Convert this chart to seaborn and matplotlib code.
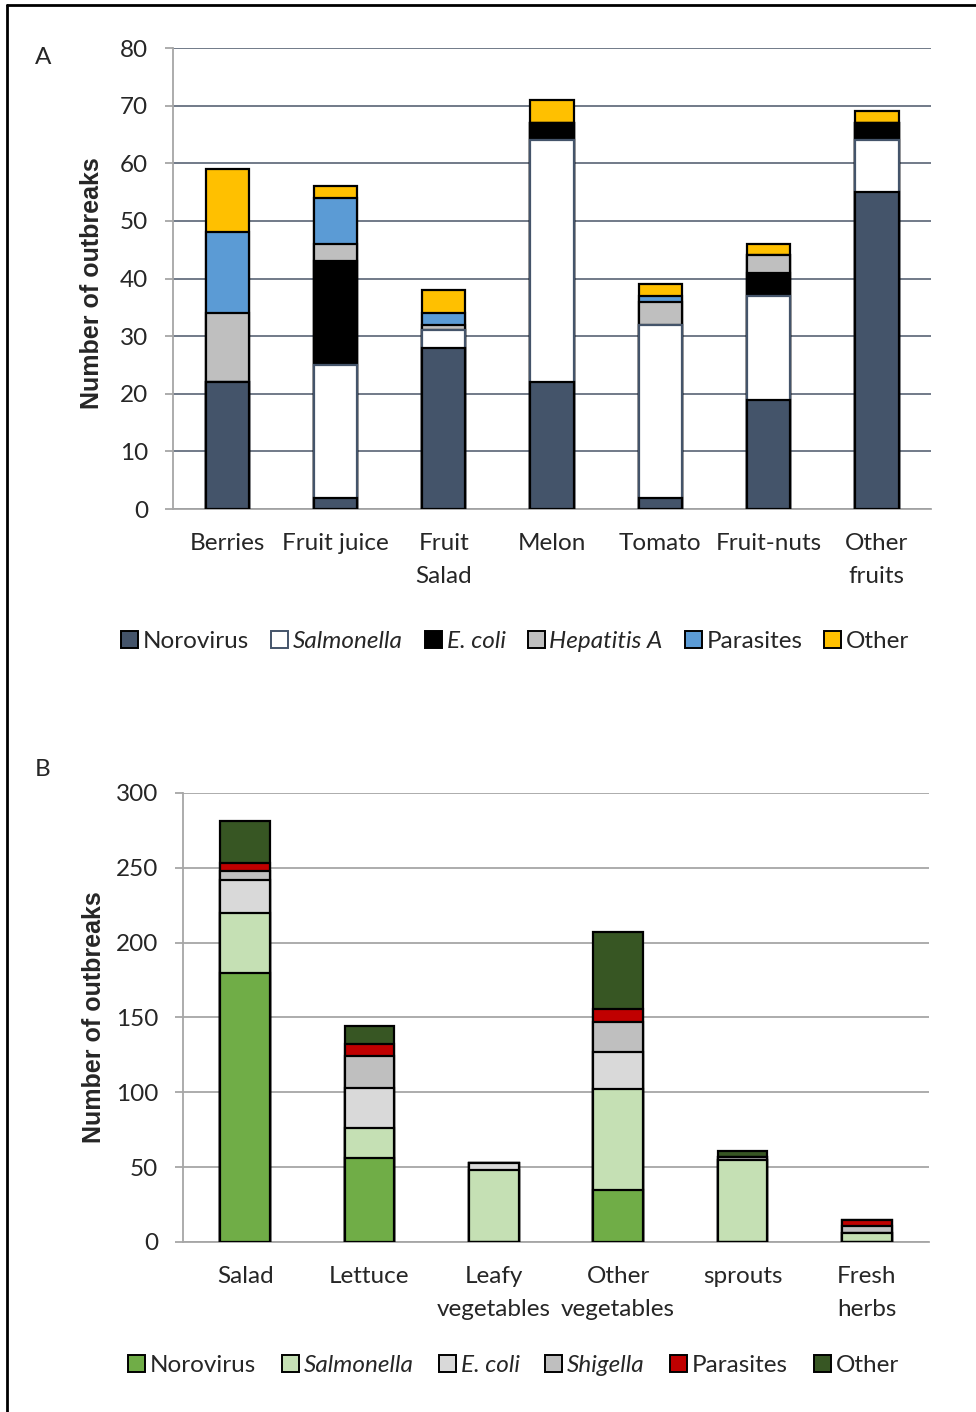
import numpy as np
import pandas as pd
import matplotlib
matplotlib.use("Agg")
import matplotlib.pyplot as plt
from matplotlib.patches import Patch
from matplotlib.lines import Line2D
import seaborn as sns

# --- Panel A data: fruits -------------------------------------------------
fruit_cats = ["Berries", "Fruit juice", "Fruit\nSalad", "Melon", "Tomato", "Fruit-nuts", "Other\nfruits"]
fruit_series = ["Norovirus", "Salmonella", "E. coli", "Hepatitis A", "Parasites", "Other"]
fruit_noro = [22, 2, 28, 22, 2, 19, 55]
fruit_salm = [0, 23, 3, 42, 30, 18, 9]
fruit_ecoli = [0, 18, 0, 3, 0, 4, 3]
fruit_hepa = [12, 3, 1, 0, 4, 3, 0]
fruit_para = [14, 8, 2, 0, 1, 0, 0]
fruit_other = [11, 2, 4, 4, 2, 2, 2]
fruit_colors = ["#44546A", "#FFFFFF", "#000000", "#BFBFBF", "#5B9BD5", "#FFC000"]
fruit_edges = ["#000000", "#44546A", "#000000", "#000000", "#000000", "#000000"]

# --- Panel B data: vegetables ---------------------------------------------
veg_cats = ["Salad", "Lettuce", "Leafy\nvegetables", "Other\nvegetables", "sprouts", "Fresh\nherbs"]
veg_series = ["Norovirus", "Salmonella", "E. coli", "Shigella", "Parasites", "Other"]
veg_noro = [180, 56, 0, 35, 0, 0]
veg_salm = [40, 20, 48, 67, 55, 6]
veg_ecoli = [22, 27, 5, 25, 0, 0]
veg_shig = [6, 21, 0, 20, 2, 5]
veg_para = [5, 8, 0, 9, 0, 4]
veg_other = [28, 12, 0, 51, 4, 0]
veg_colors = ["#70AD47", "#C5E0B4", "#D9D9D9", "#BFBFBF", "#C00000", "#375623"]
veg_edges = ["#000000"] * 6

ITALIC = {"Salmonella", "E. coli", "Hepatitis A", "Shigella"}

sns.set_style("white")
plt.rcParams["font.family"] = ["Lato", "DejaVu Sans"]
FS = 17.5


def stacked(ax, cats, series, values, colors, edges, grid_color, ymax, ystep):
    df = pd.DataFrame(dict(zip(series, values)))
    df["cat"] = cats
    cum = df[series].cumsum(axis=1)
    # draw from the tallest cumulative level down so lower segments sit on top
    for i in range(len(series) - 1, -1, -1):
        d = pd.DataFrame({"cat": cats, "val": cum[series[i]].values})
        sns.barplot(data=d, x="cat", y="val", order=cats, color=colors[i],
                    edgecolor=edges[i], linewidth=1.6, width=0.4,
                    errorbar=None, saturation=1, ax=ax, zorder=3)
    ax.set_ylim(0, ymax)
    ax.set_xlim(-0.5, len(cats) - 0.5)
    ax.set_yticks(np.arange(0, ymax + 1, ystep))
    ax.yaxis.grid(True, color=grid_color, linewidth=1.3, zorder=0)
    ax.set_axisbelow(True)
    ax.set_xlabel("")
    ax.set_ylabel("Number of outbreaks", fontsize=18, fontweight="bold",
                  family=["Liberation Sans", "DejaVu Sans"])
    for s in ["top", "right"]:
        ax.spines[s].set_visible(False)
    for s in ["left", "bottom"]:
        ax.spines[s].set_color("#A6A6A6")
        ax.spines[s].set_linewidth(1.3)
    ax.set_xticks(np.arange(-0.5, len(cats)), minor=True)
    ax.tick_params(axis="x", which="major", length=0, pad=17, labelsize=FS)
    ax.tick_params(axis="x", which="minor", length=7, color="#A6A6A6", width=1.3)
    ax.tick_params(axis="y", length=6, color="#A6A6A6", width=1.3, pad=12, labelsize=FS, left=True)
    for t in ax.get_xticklabels():
        t.set_linespacing(1.7)


def legend(ax, series, colors, edges, x, y, colsp):
    handles = [Patch(facecolor=c, edgecolor=e, linewidth=1.4, label=s)
               for s, c, e in zip(series, colors, edges)]
    leg = ax.legend(handles=handles, loc="center", bbox_to_anchor=(x, y),
                    bbox_transform=fig.transFigure, ncol=len(series), frameon=False,
                    fontsize=FS, handlelength=0.7, handleheight=0.7,
                    handletextpad=0.2, columnspacing=colsp)
    for t in leg.get_texts():
        if t.get_text() in ITALIC:
            t.set_fontstyle("italic")


fig = plt.figure(figsize=(9.76, 14.12), dpi=100)
axA = fig.add_axes([0.1773, 0.6395, 0.7766, 0.3265])
axB = fig.add_axes([0.1875, 0.1204, 0.7643, 0.318])

stacked(axA, fruit_cats, fruit_series,
        [fruit_noro, fruit_salm, fruit_ecoli, fruit_hepa, fruit_para, fruit_other],
        fruit_colors, fruit_edges, "#66707F", 80, 10)
stacked(axB, veg_cats, veg_series,
        [veg_noro, veg_salm, veg_ecoli, veg_shig, veg_para, veg_other],
        veg_colors, veg_edges, "#A6A6A6", 300, 50)
axA.yaxis.set_label_coords(-0.091, 0.49)
axB.yaxis.set_label_coords(-0.103, 0.5)

legend(axA, fruit_series, fruit_colors, fruit_edges, 0.528, 0.546, 0.9)
legend(axB, veg_series, veg_colors, veg_edges, 0.526, 0.0326, 1.05)

fig.text(43 / 976, 1 - 57 / 1412, "A", fontsize=FS, ha="center", va="center")
fig.text(43 / 976, 1 - 770 / 1412, "B", fontsize=FS, ha="center", va="center")

# outer frame (left and top edges)
fig.add_artist(Line2D([7 / 976, 7 / 976], [0, 1 - 5 / 1412], transform=fig.transFigure,
                      color="black", linewidth=2))
fig.add_artist(Line2D([7 / 976, 1], [1 - 5 / 1412, 1 - 5 / 1412], transform=fig.transFigure,
                      color="black", linewidth=2))

fig.savefig("out.png", dpi=100)
